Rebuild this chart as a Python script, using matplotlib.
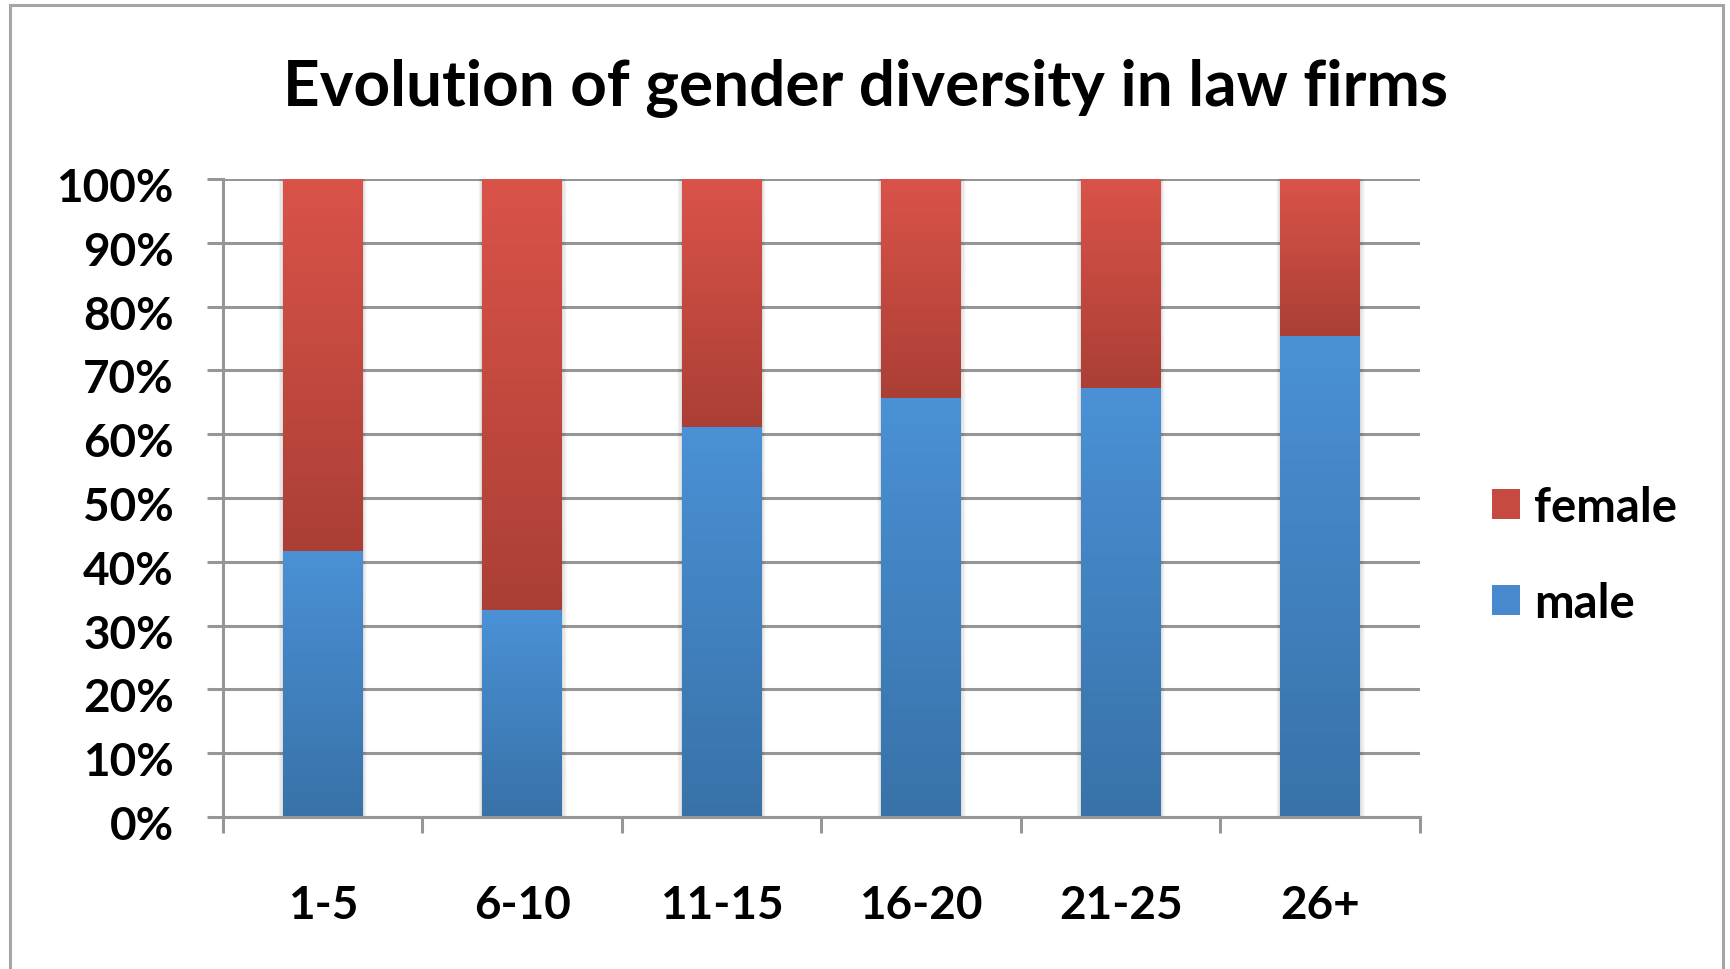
import numpy as np
import matplotlib.pyplot as plt
from matplotlib.patches import Rectangle, Patch
from matplotlib.colors import LinearSegmentedColormap
from matplotlib.transforms import ScaledTranslation

# data
categories = ["1-5", "6-10", "11-15", "16-20", "21-25", "26+"]
male = [41.7, 32.4, 61.2, 65.7, 67.2, 75.4]
female = [100 - m for m in male]

plt.rcParams['font.family'] = ['Lato', 'DejaVu Sans']
plt.rcParams['font.weight'] = 'bold'

W, H = 1731, 970
fig = plt.figure(figsize=(W / 100, H / 100), dpi=100)
ax = fig.add_axes([223 / W, 1 - 818 / H, (1420 - 223) / W, (818 - 180) / H])

grid_col = "#969696"
x = np.arange(len(categories))

# bars
male_bars = ax.bar(x, male, width=0.4, color="#4689cc", zorder=2)
female_bars = ax.bar(x, female, width=0.4, bottom=male, color="#c64a40", zorder=2)

ax.set_xlim(-0.5, len(categories) - 0.5)
ax.set_ylim(0, 100)

# vertical gradient inside each bar
male_cmap = LinearSegmentedColormap.from_list("m", ["#3872a8", "#4a91d6"])
female_cmap = LinearSegmentedColormap.from_list("f", ["#ab3f35", "#da5349"])
grad = np.linspace(0, 1, 256).reshape(-1, 1)
for bars, cmap in [(male_bars, male_cmap), (female_bars, female_cmap)]:
    for b in bars:
        x0, y0, bw, bh = b.get_x(), b.get_y(), b.get_width(), b.get_height()
        # soft shadow
        for k, a in enumerate([0.05, 0.04, 0.03, 0.02]):
            d = 0.006 * (k + 1)
            ax.add_patch(Rectangle((x0 - d, y0), bw + 2 * d, bh, color="black",
                                   alpha=a, lw=0, zorder=1.5))
        im = ax.imshow(grad, cmap=cmap, origin="lower", aspect="auto",
                       extent=(x0, x0 + bw, y0, y0 + bh), zorder=2.1)
        im.set_clip_path(b)

ax.set_xlim(-0.5, len(categories) - 0.5)
ax.set_ylim(0, 100)

# grid and axes
ax.set_yticks(np.arange(0, 101, 10))
ax.set_yticklabels([f"{v}%" for v in range(0, 101, 10)])
ax.yaxis.grid(True, color=grid_col, linewidth=2.2, zorder=0)
ax.set_axisbelow(True)

ax.set_xticks(x)
ax.set_xticklabels(categories)
ax.set_xticks(np.arange(-0.5, len(categories)), minor=True)
ax.tick_params(axis="x", which="major", length=0, pad=48, labelsize=33)
ax.tick_params(axis="x", which="minor", length=11.5, width=2.2, color=grid_col)
ax.tick_params(axis="y", length=11.5, width=2.2, color=grid_col, pad=24, labelsize=33)

# labels sit a little below their gridlines
shift = ScaledTranslation(0, -5 / 100, fig.dpi_scale_trans)
for lbl in ax.get_yticklabels():
    lbl.set_transform(lbl.get_transform() + shift)

for s in ["top", "right"]:
    ax.spines[s].set_visible(False)
for s in ["left", "bottom"]:
    ax.spines[s].set_color(grid_col)
    ax.spines[s].set_linewidth(2.2)

# title
fig.text(0.5, 1 - 88 / H, "Evolution of gender diversity in law firms",
         ha="center", va="center", fontsize=46, fontweight="bold")

# legend
handles = [Patch(facecolor="#c64a40"), Patch(facecolor="#4689cc")]
fig.legend(handles, ["female", "male"], loc="center left",
           bbox_to_anchor=(1492 / W, 1 - 556 / H), frameon=False, fontsize=34,
           handlelength=0.6, handleheight=0.6, handletextpad=0.3,
           labelspacing=1.1, borderpad=0, borderaxespad=0)

# outer border
fig.patches.append(Rectangle((10 / W, -0.05), (1723 - 10) / W, 1.05 - 6 / H,
                             transform=fig.transFigure, fill=False,
                             edgecolor="#a6a6a6", linewidth=2.2))

fig.savefig("out.png", dpi=100)
